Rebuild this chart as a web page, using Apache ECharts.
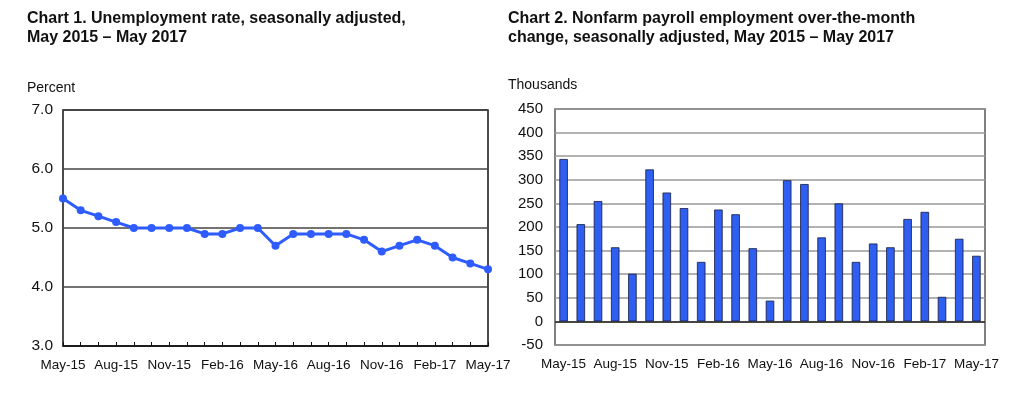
<!DOCTYPE html>
<html>
<head>
<meta charset="utf-8">
<script src="https://cdn.jsdelivr.net/npm/echarts@6/dist/echarts.min.js"></script>
<style>
  html, body { margin: 0; padding: 0; background: #fff; }
  #chart { width: 1024px; height: 406px; }
</style>
</head>
<body>
<div id="chart"></div>
<script>
'use strict';

// months, May 2015 - May 2017
const months = [
  'May-15', 'Jun-15', 'Jul-15', 'Aug-15', 'Sep-15', 'Oct-15', 'Nov-15', 'Dec-15',
  'Jan-16', 'Feb-16', 'Mar-16', 'Apr-16', 'May-16', 'Jun-16', 'Jul-16', 'Aug-16',
  'Sep-16', 'Oct-16', 'Nov-16', 'Dec-16', 'Jan-17', 'Feb-17', 'Mar-17', 'Apr-17', 'May-17'
];

// Chart 1 - unemployment rate (percent)
const unemploymentRate = [
  5.5, 5.3, 5.2, 5.1, 5.0, 5.0, 5.0, 5.0, 4.9, 4.9, 5.0, 5.0, 4.7,
  4.9, 4.9, 4.9, 4.9, 4.8, 4.6, 4.7, 4.8, 4.7, 4.5, 4.4, 4.3
];

// Chart 2 - payroll change (thousands)
const payrollChange = [
  344, 206, 255, 157, 101, 322, 273, 240, 126, 237, 227, 155, 44,
  299, 291, 178, 250, 126, 165, 157, 217, 232, 52, 175, 139
];

const font = 'Liberation Sans, Arial, sans-serif';

(function () {
  const chartEl = document.querySelector('#chart');
  const chart = echarts.init(chartEl, null, { renderer: 'canvas' });

  const titleStyle = {
    fontFamily: font,
    fontSize: 16,
    fontWeight: 'bold',
    color: '#111',
    lineHeight: 19
  };

  const xLabel = {
    interval: 2, margin: 12, fontFamily: font, fontSize: 13.5, color: '#111'
  };

  const option = {
    animation: false,
    backgroundColor: '#fff',
    title: [
      {
        text: 'Chart 1. Unemployment rate, seasonally adjusted,\nMay 2015 \u2013 May 2017',
        left: 22, top: 4,
        textStyle: titleStyle
      },
      {
        text: 'Chart 2. Nonfarm payroll employment over-the-month\nchange, seasonally adjusted, May 2015 \u2013 May 2017',
        left: 503, top: 4,
        textStyle: titleStyle
      }
    ],
    graphic: [
      {
        type: 'text', left: 27, top: 81,
        style: { text: 'Percent', fontFamily: font, fontSize: 14, fill: '#111' }
      },
      {
        type: 'text', left: 508, top: 78,
        style: { text: 'Thousands', fontFamily: font, fontSize: 14, fill: '#111' }
      }
    ],
    grid: [
      {
        left: 63, top: 110, width: 425, height: 236,
        show: true, borderColor: '#111', borderWidth: 1.5, backgroundColor: '#fff'
      },
      {
        left: 555, top: 109, width: 430, height: 236,
        show: true, borderColor: '#555', borderWidth: 1.5, backgroundColor: '#fff'
      }
    ],
    xAxis: [
      {
        type: 'category',
        gridIndex: 0,
        data: months,
        boundaryGap: false,
        axisLine: { show: true, lineStyle: { color: '#111', width: 1.5 } },
        axisTick: { show: true, inside: true, length: 4, interval: 0, lineStyle: { color: '#111' } },
        axisLabel: xLabel
      },
      {
        type: 'category',
        gridIndex: 1,
        data: months,
        axisLine: { show: false },
        axisTick: { show: false },
        axisLabel: xLabel
      }
    ],
    yAxis: [
      {
        type: 'value',
        gridIndex: 0,
        min: 3, max: 7, interval: 1,
        axisLine: { show: false },
        axisTick: { show: false },
        splitLine: { show: true, lineStyle: { color: '#444', width: 1.5 } },
        axisLabel: {
          margin: 10, fontFamily: font, fontSize: 15.5, color: '#111',
          formatter: function (v) { return v.toFixed(1); }
        }
      },
      {
        type: 'value',
        gridIndex: 1,
        min: -50, max: 450, interval: 50,
        axisLine: { show: false },
        axisTick: { show: false },
        splitLine: { show: true, lineStyle: { color: '#999', width: 1.5 } },
        axisLabel: { margin: 12, fontFamily: font, fontSize: 15, color: '#111' }
      }
    ],
    series: [
      {
        name: 'Unemployment rate',
        type: 'line',
        xAxisIndex: 0,
        yAxisIndex: 0,
        data: unemploymentRate,
        symbol: 'circle',
        symbolSize: 8,
        lineStyle: { color: '#2f5cff', width: 3 },
        itemStyle: { color: '#2f5cff' }
      },
      {
        name: 'Payroll change',
        type: 'bar',
        xAxisIndex: 1,
        yAxisIndex: 1,
        data: payrollChange,
        barWidth: 8.5,
        itemStyle: { color: '#2f5ff0', borderColor: '#151a40', borderWidth: 0.8 },
        markLine: {
          silent: true,
          symbol: 'none',
          label: { show: false },
          lineStyle: { color: '#222', width: 1.5, type: 'solid' },
          data: [{ yAxis: 0 }]
        }
      }
    ]
  };

  chart.setOption(option);
  window.addEventListener('resize', chart.resize);
})();
</script>
</body>
</html>
